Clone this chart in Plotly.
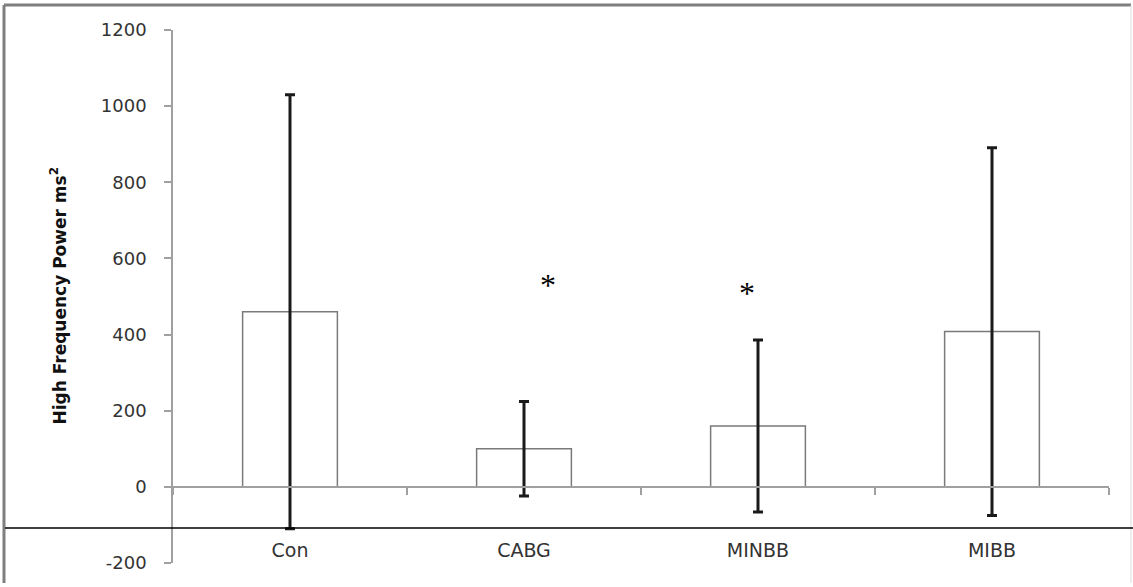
import plotly.graph_objects as go

# Group means and standard deviations of HF power (ms^2)
groups = ["Con", "CABG", "MINBB", "MIBB"]
hf_mean = [460, 100, 160, 408]
hf_sd = [570, 124, 226, 483]

# Significance markers: group, height, horizontal offset in px
star_groups = ["CABG", "MINBB"]
star_heights = [537, 516]
star_shift = [24, -11]

y_ticks = [-200, 0, 200, 400, 600, 800, 1000, 1200]
y_tick_text = ["-200", "0", "200", "400", "600", "800", "1000", "1200"]

W, H = 1133, 587
ML, MR, MT, MB = 173, 24, 30, 24


def px_x(px):
    return (px - ML) / (W - ML - MR)


def px_y(py):
    return (H - MB - py) / (H - MT - MB)


fig = go.Figure()
fig.add_trace(go.Bar(
    x=groups,
    y=hf_mean,
    width=0.405,
    marker=dict(color="white", line=dict(color="#7a7a7a", width=1.5)),
    error_y=dict(type="data", array=hf_sd, visible=True,
                 color="#1a1a1a", thickness=3, width=5),
    showlegend=False,
))

for g, h, s in zip(star_groups, star_heights, star_shift):
    fig.add_annotation(x=g, y=h, text="*", showarrow=False, xshift=s, yshift=-3,
                       font=dict(family="Liberation Serif", size=32, color="black"))

# Y-axis title
fig.add_annotation(xref="paper", yref="paper", x=px_x(58), y=0.5,
                   text="<b>High Frequency Power ms<sup>2</sup></b>", textangle=-90,
                   showarrow=False, xanchor="center", yanchor="middle",
                   font=dict(family="DejaVu Sans", size=17, color="#111111"))

shapes = [
    # outer frame
    dict(type="line", xref="paper", yref="paper", x0=px_x(4), x1=px_x(4),
         y0=px_y(5), y1=px_y(583), line=dict(color="#7f7f7f", width=3)),
    dict(type="line", xref="paper", yref="paper", x0=px_x(4), x1=px_x(1131),
         y0=px_y(5), y1=px_y(5), line=dict(color="#7f7f7f", width=3)),
    dict(type="line", xref="paper", yref="paper", x0=px_x(1131), x1=px_x(1131),
         y0=px_y(5), y1=px_y(583), line=dict(color="#dddddd", width=1)),
    # horizontal rule across the lower part
    dict(type="line", xref="paper", yref="paper", x0=px_x(5), x1=px_x(1133),
         y0=px_y(528), y1=px_y(528), line=dict(color="black", width=1.5)),
]

fig.update_layout(
    width=W, height=H,
    margin=dict(l=ML, r=MR, t=MT, b=MB),
    paper_bgcolor="white", plot_bgcolor="white",
    shapes=shapes,
    bargap=0.6,
    xaxis=dict(
        type="category", range=[-0.5, 3.5],
        anchor="free", position=200 / 1400,
        showline=True, linecolor="#a0a0a0", linewidth=1.5,
        ticks="outside", tickson="boundaries", ticklen=7,
        tickcolor="#a0a0a0", tickwidth=1.5,
        showgrid=False, zeroline=False,
        tickfont=dict(family="DejaVu Sans", size=19, color="#333333"),
        ticklabelstandoff=47,
    ),
    yaxis=dict(
        range=[-200, 1200],
        tickvals=y_ticks, ticktext=y_tick_text,
        showline=True, linecolor="#a0a0a0", linewidth=1.5,
        ticks="outside", ticklen=7, tickcolor="#a0a0a0", tickwidth=1.5,
        showgrid=False, zeroline=False,
        tickfont=dict(family="DejaVu Sans", size=18, color="#333333"),
        ticklabelstandoff=14,
    ),
)

fig.write_html("out.html")
